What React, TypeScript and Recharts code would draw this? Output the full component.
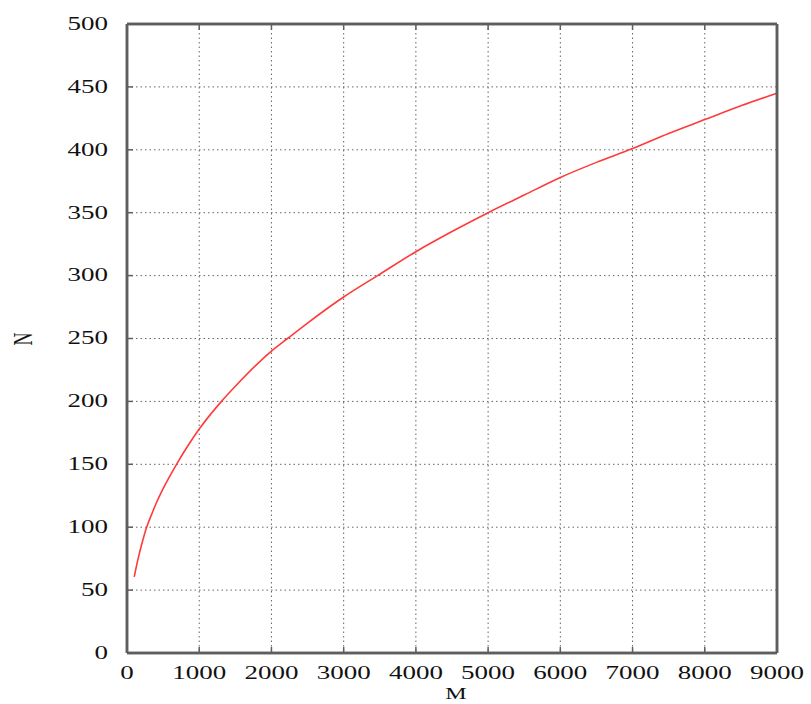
import React from "react";
import { LineChart, Line, XAxis, YAxis, CartesianGrid, ReferenceLine } from "recharts";

const mValues = [100, 150, 200, 272, 350, 400, 500, 686, 850, 1000, 1308, 1500, 2000, 2223, 2500, 3000, 3470, 4000, 4500, 5000, 5500, 6000, 6500, 7000, 7500, 8000, 8500, 9000];
const nValues = [60.5, 74, 85.6, 100, 111.5, 118.4, 130.6, 150, 165.3, 178, 200, 212, 240, 250, 262.3, 283, 300, 319, 335, 350, 364, 378, 390, 401, 413, 424, 435, 445];
const xTicks = [0, 1000, 2000, 3000, 4000, 5000, 6000, 7000, 8000, 9000];
const yTicks = [0, 50, 100, 150, 200, 250, 300, 350, 400, 450, 500];
const xTitle = "M";
const yTitle = "N";

const data = mValues.map((m, i) => ({ m, n: nValues[i] }));

const FONT = "'Liberation Serif', 'DejaVu Serif', serif";
const SX = 1.5;
const INK = "#111";
const FRAME = "#5e5e5e";

const BottomTick = (props: any) => {
  const { x, y, payload } = props;
  return (
    <g transform={`translate(${x},${y + 20})`}>
      <text transform={`scale(${SX},1)`} textAnchor="middle" dominantBaseline="central" fontFamily={FONT} fontSize={18} fill={INK}>
        {payload.value}
      </text>
    </g>
  );
};

const LeftTick = (props: any) => {
  const { x, y, payload } = props;
  return (
    <g transform={`translate(${x - 19},${y})`}>
      <text transform={`scale(${SX},1)`} textAnchor="end" dominantBaseline="central" fontFamily={FONT} fontSize={18} fill={INK}>
        {payload.value}
      </text>
    </g>
  );
};

const EmptyTick = () => <g />;

export default function App() {
  return (
    <div style={{ position: "absolute", left: 0, top: 0, width: 811, height: 704, background: "#fff" }}>
      <LineChart width={811} height={704} data={data} margin={{ top: 23, right: 33, bottom: 21, left: 67 }}>
        <CartesianGrid xAxisId="bottom" yAxisId="left" stroke="#666" strokeDasharray="1.5 3" />
        <XAxis
          xAxisId="bottom"
          dataKey="m"
          type="number"
          domain={[0, 9000]}
          ticks={xTicks}
          interval={0}
          height={30}
          tickSize={-6}
          tickMargin={6}
          tickLine={{ stroke: FRAME, strokeWidth: 1.5 }}
          axisLine={{ stroke: FRAME, strokeWidth: 2.5 }}
          tick={<BottomTick />}
        />
        <XAxis
          xAxisId="top"
          dataKey="m"
          type="number"
          orientation="top"
          domain={[0, 9000]}
          ticks={xTicks}
          interval={0}
          height={1}
          tickSize={-6}
          tickMargin={6}
          tickLine={{ stroke: FRAME, strokeWidth: 1.5 }}
          axisLine={{ stroke: FRAME, strokeWidth: 2.5 }}
          tick={<EmptyTick />}
        />
        <YAxis
          yAxisId="left"
          type="number"
          domain={[0, 500]}
          ticks={yTicks}
          interval={0}
          width={60}
          tickSize={-6}
          tickMargin={6}
          tickLine={{ stroke: FRAME, strokeWidth: 1.5 }}
          axisLine={{ stroke: FRAME, strokeWidth: 2.5 }}
          tick={<LeftTick />}
        />
        <YAxis
          yAxisId="right"
          orientation="right"
          type="number"
          domain={[0, 500]}
          ticks={yTicks}
          interval={0}
          width={1}
          tickSize={-6}
          tickMargin={6}
          tickLine={{ stroke: FRAME, strokeWidth: 1.5 }}
          axisLine={{ stroke: FRAME, strokeWidth: 2.5 }}
          tick={<EmptyTick />}
        />
        <Line
          xAxisId="bottom"
          yAxisId="left"
          type="monotone"
          dataKey="n"
          stroke="#ff3a3a"
          strokeWidth={1.6}
          dot={false}
          isAnimationActive={false}
        />
        <ReferenceLine xAxisId="bottom" yAxisId="left" x={0} stroke={FRAME} strokeWidth={2.5} ifOverflow="visible" />
        <ReferenceLine xAxisId="bottom" yAxisId="left" x={9000} stroke={FRAME} strokeWidth={2.5} ifOverflow="visible" />
        <ReferenceLine xAxisId="bottom" yAxisId="left" y={0} stroke={FRAME} strokeWidth={2.5} ifOverflow="visible" />
        <ReferenceLine xAxisId="bottom" yAxisId="left" y={500} stroke={FRAME} strokeWidth={2.5} ifOverflow="visible" />
      </LineChart>
      <div
        style={{
          position: "absolute",
          left: 456,
          top: 694,
          transform: `translate(-50%, -50%) scaleX(${SX})`,
          fontFamily: FONT,
          fontSize: 16,
          lineHeight: 1,
          color: INK,
          whiteSpace: "nowrap",
        }}
      >
        {xTitle}
      </div>
      <div
        style={{
          position: "absolute",
          left: 23,
          top: 339,
          transform: `translate(-50%, -50%) scaleX(${SX}) rotate(-90deg)`,
          fontFamily: FONT,
          fontSize: 18,
          lineHeight: 1,
          color: INK,
          whiteSpace: "nowrap",
        }}
      >
        {yTitle}
      </div>
    </div>
  );
}
